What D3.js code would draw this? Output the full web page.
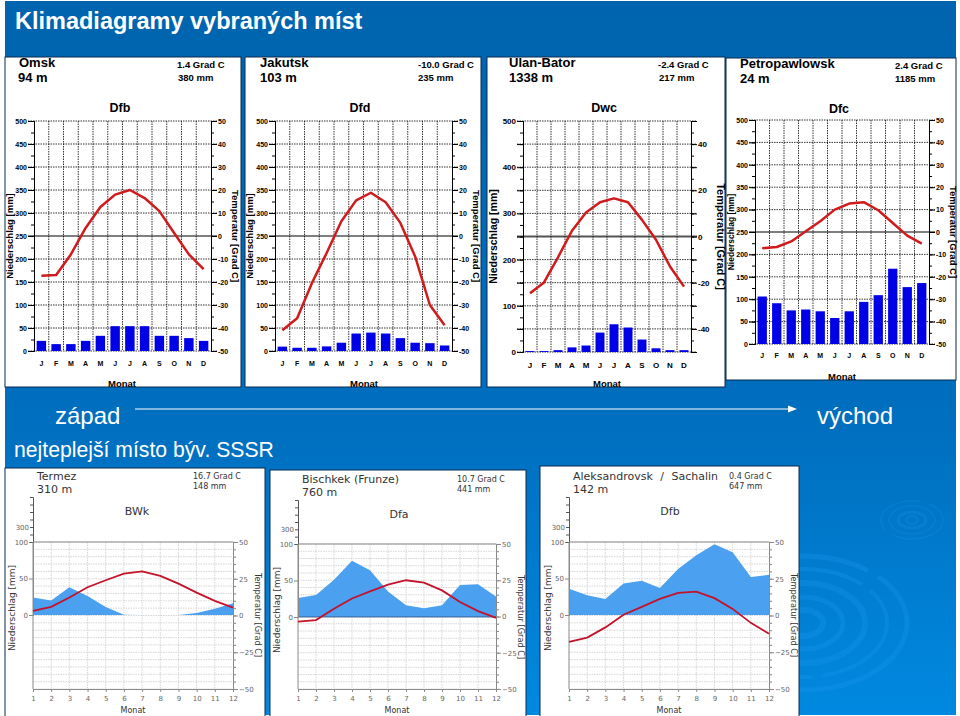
<!DOCTYPE html>
<html>
<head>
<meta charset="utf-8">
<title>Klimadiagramy vybraných míst</title>
<script src="https://cdnjs.cloudflare.com/ajax/libs/d3/7.8.5/d3.min.js"></script>
<style>
    html, body {margin: 0; padding: 0; background: #fff;}
    svg {display: block;}
    text {font-family: "Liberation Sans", Arial, sans-serif;}
</style>
</head>
<body>
<div id="chart"></div>
<script>
// Months
const monthLetters = ['J', 'F', 'M', 'A', 'M', 'J', 'J', 'A', 'S', 'O', 'N', 'D'];
const monthNumbers = [1, 2, 3, 4, 5, 6, 7, 8, 9, 10, 11, 12];

// Upper row, precipitation [mm] and temperature [Grad C]
const omskRain = [22, 15, 15, 22, 33, 54, 54, 54, 33, 33, 28, 22];
const omskTemp = [-17.3, -17, -8, 3.5, 12.6, 18, 20, 16.5, 10.8, 1.3, -8, -14.4];
const jakutskRain = [9.5, 7, 7, 10, 18, 38, 40, 38, 28, 18, 17, 12];
const jakutskTemp = [-41, -35.8, -20.5, -7.4, 6.4, 15.5, 18.8, 14.7, 5.7, -8.9, -30, -38.8];
const ulanRain = [2, 2, 4, 10, 14, 42, 60, 53, 27, 8, 4, 4];
const ulanTemp = [-24.6, -19.9, -9, 2.5, 10.4, 14.8, 16.5, 14.8, 7.2, -1.4, -13, -21.7];
const petroRain = [106, 91, 75, 77, 73, 58, 73, 94, 109, 168, 127, 136];
const petroTemp = [-7.3, -6.7, -4.2, 0.3, 4.8, 10, 12.7, 13.3, 9.7, 4, -1.6, -5.2];

// Lower row
const termezRain = [24, 20, 38, 26, 11, 0.5, 0, 0, 0, 2.7, 8.6, 16];
const termezTemp = [3.2, 5.9, 12.2, 19.2, 24, 28.5, 30, 27, 21.7, 15.6, 10, 5.4];
const bischkekRain = [26, 30, 51, 77, 64, 35, 16, 12, 16, 44, 45, 28];
const bischkekTemp = [-3.5, -2.5, 5.3, 12.4, 17.3, 22, 25, 23.3, 18, 10, 3.7, -1];
const sachalinRain = [36, 27, 22, 43, 47, 37, 63, 82, 97, 86, 52, 55];
const sachalinTemp = [-17.9, -15, -8.1, 0.5, 5.9, 11.3, 15.4, 16.3, 11.8, 4.5, -5, -12.4];

// Tick values
const rainGrid = [0, 50, 100, 150, 200, 250, 300, 350, 400, 450, 500];
const rainMinor = d3.range(0, 501, 25);
const tempMajor = [-50, -40, -30, -20, -10, 0, 10, 20, 30, 40, 50];
const tempMinor = d3.range(-50, 51, 5);
const lowerRainTicks = [0, 50, 100];
const lowerTempTicks = [-50, -25, 0, 25, 50];
const lowerUpperTicks = [100, 200, 300, 400, 500, 600, 700];

// Layout of the upper panels
const upperPanels = [
    {name: 'Omsk', height: '94 m', temp: '1.4 Grad C', rain: '380 mm', climate: 'Dfb', rainValues: omskRain, tempValues: omskTemp,
        box: [5, 57, 241, 387], plot: [34, 121, 211, 351], nameX: 19, heightX: 18, infoX: 177, rainX: 178, climateX: 120, leftTitleX: 13, rightTitleX: 232, monatX: 122},
    {name: 'Jakutsk', height: '103 m', temp: '-10.0 Grad C', rain: '235 mm', climate: 'Dfd', rainValues: jakutskRain, tempValues: jakutskTemp,
        box: [245, 57, 481, 387], plot: [275, 121, 452, 351], nameX: 260, heightX: 260, infoX: 418, rainX: 418, climateX: 360, leftTitleX: 253, rightTitleX: 473, monatX: 364},
    {name: 'Ulan-Bator', height: '1338 m', temp: '-2.4 Grad C', rain: '217 mm', climate: 'Dwc', rainValues: ulanRain, tempValues: ulanTemp,
        box: [487, 57, 725, 387], plot: [523, 121, 691, 352], nameX: 509, heightX: 509, infoX: 658, rainX: 659, climateX: 604, leftTitleX: 497, rightTitleX: 717, monatX: 607, sparse: true},
    {name: 'Petropawlowsk', height: '24 m', temp: '2.4 Grad C', rain: '1185 mm', climate: 'Dfc', rainValues: petroRain, tempValues: petroTemp,
        box: [726, 58, 956, 380], plot: [755, 120, 929, 344], nameX: 740, heightX: 740, infoX: 895, rainX: 895, climateX: 839, leftTitleX: 734, rightTitleX: 950, monatX: 842, smallLeft: true}
];

// Layout of the lower panels
const lowerPanels = [
    {name: 'Termez', height: '310 m', temp: '16.7 Grad C', rain: '148 mm', climate: 'BWk', rainValues: termezRain, tempValues: termezTemp,
        box: [5, 468, 265, 717], plot: [33, 542, 233, 615, 689], top: 497, nameX: 37, nameY: 480, heightY: 493, infoX: 193, climateX: 137, climateY: 515},
    {name: 'Bischkek (Frunze)', height: '760 m', temp: '10.7 Grad C', rain: '441 mm', climate: 'Dfa', rainValues: bischkekRain, tempValues: bischkekTemp,
        box: [270, 470, 526, 717], plot: [298, 544, 496, 617, 689], top: 500, nameX: 302, nameY: 483, heightY: 496, infoX: 457, climateX: 399, climateY: 518, zeroLine: true},
    {name: 'Aleksandrovsk / Sachalin', height: '142 m', temp: '0.4 Grad C', rain: '647 mm', climate: 'Dfb', rainValues: sachalinRain, tempValues: sachalinTemp,
        box: [540, 466, 799, 717], plot: [569, 542, 769, 615, 689], top: 497, nameX: 573, nameY: 480, heightY: 493, infoX: 729, rainX: 729, climateX: 670, climateY: 515, wordGap: 4}
];

const width = 960;
const height = 716;

let svg = d3.select('#chart').append('svg')
    .attr('width', width)
    .attr('height', height);

/*
** Slide background
 */
function drawBackground() {
    let gradient = svg.append('defs').append('linearGradient')
        .attr('id', 'slide-bg')
        .attr('x1', 0).attr('y1', 0).attr('x2', 0).attr('y2', 1);
    gradient.append('stop').attr('offset', '0%').attr('stop-color', '#0064ae');
    gradient.append('stop').attr('offset', '60%').attr('stop-color', '#006fbf');
    gradient.append('stop').attr('offset', '100%').attr('stop-color', '#0089e0');
    svg.append('rect')
        .attr('x', 5).attr('y', 1)
        .attr('width', 951).attr('height', 714)
        .attr('fill', 'url(#slide-bg)');

    // Water ripples
    let big = svg.append('g').attr('fill', 'none').attr('stroke', '#1b97ee').attr('opacity', 0.3);
    [[104, 67, 5, '150 12'], [84, 54, 4, '90 10'], [62, 40, 6, null], [40, 26, 5, null], [20, 13, 6, null]].forEach(function(r) {
        big.append('ellipse')
            .attr('cx', 803).attr('cy', 623)
            .attr('rx', r[0]).attr('ry', r[1])
            .attr('stroke-width', r[2])
            .attr('stroke-dasharray', r[3]);
    });
    let small = svg.append('g').attr('fill', 'none').attr('stroke', '#1b8ee0').attr('opacity', 0.3);
    [[31, 19, 1.5, '60 8'], [23, 14, 1.5, null], [14, 8, 3, null], [6, 4, 2, null]].forEach(function(r) {
        small.append('ellipse')
            .attr('cx', 912).attr('cy', 520)
            .attr('rx', r[0]).attr('ry', r[1])
            .attr('stroke-width', r[2])
            .attr('stroke-dasharray', r[3]);
    });
}

/*
** Text on the slide
 */
function drawSlideText() {
    svg.append('text').attr('x', 15).attr('y', 29)
        .attr('font-size', 23.5).attr('font-weight', 'bold').attr('fill', '#fff')
        .text('Klimadiagramy vybraných míst');
    svg.append('text').attr('x', 55).attr('y', 424)
        .attr('font-size', 24).attr('fill', '#fff').text('západ');
    svg.append('text').attr('x', 817).attr('y', 424)
        .attr('font-size', 24).attr('fill', '#fff').text('východ');
    svg.append('text').attr('x', 14).attr('y', 457)
        .attr('font-size', 21.2).attr('fill', '#fff').text('nejteplejší místo býv. SSSR');

    // Arrow west to east
    svg.append('line')
        .attr('x1', 135).attr('y1', 409).attr('x2', 790).attr('y2', 409)
        .attr('stroke', '#fff').attr('stroke-width', 1);
    svg.append('path')
        .attr('d', 'M797,409L788,405.5L788,412.5Z')
        .attr('fill', '#fff');
}

function panelBox(p) {
    svg.append('rect')
        .attr('x', p.box[0]).attr('y', p.box[1])
        .attr('width', p.box[2] - p.box[0]).attr('height', p.box[3] - p.box[1])
        .attr('fill', '#fff')
        .attr('stroke', '#0a2a50').attr('stroke-width', 1);
}

/*
** Upper panels with monthly bars
 */
function drawUpperPanel(p) {
    let left = p.plot[0], top = p.plot[1], right = p.plot[2], bottom = p.plot[3];
    let g = svg.append('g');
    let x = d3.scaleBand().domain(d3.range(12)).range([left, right]);
    let yRain = d3.scaleLinear().domain([0, 500]).range([bottom, top]);
    let yTemp = d3.scaleLinear().domain([-50, 50]).range([bottom, top]);
    let barWidth = x.bandwidth() * 0.64;

    // Dotted grid
    g.append('g').selectAll('line').data(rainGrid).join('line')
        .attr('x1', left - 6).attr('x2', right + 6)
        .attr('y1', d => yRain(d)).attr('y2', d => yRain(d))
        .attr('stroke', d => (d === 250 && p.sparse) ? '#555' : '#000')
        .attr('stroke-width', d => d === 250 ? (p.sparse ? 1.8 : 1.2) : 0.8)
        .attr('stroke-dasharray', d => d === 250 ? null : '1.5 1');
    g.append('g').selectAll('line').data(d3.range(1, 12)).join('line')
        .attr('x1', d => x(d)).attr('x2', d => x(d))
        .attr('y1', top).attr('y2', bottom)
        .attr('stroke', '#000').attr('stroke-width', 0.8)
        .attr('stroke-dasharray', '1.5 1');

    // Bars
    g.append('g').selectAll('rect').data(p.rainValues).join('rect')
        .attr('x', (d, i) => x(i) + (x.bandwidth() - barWidth) / 2)
        .attr('y', d => yRain(d))
        .attr('width', barWidth)
        .attr('height', d => yRain(0) - yRain(d))
        .attr('fill', '#0000e6');

    // Axes
    let labelled = p.sparse ? [0, 100, 200, 300, 400, 500] : rainGrid;
    let leftAxis = g.append('g').attr('transform', 'translate(' + left + ',0)')
        .call(d3.axisLeft(yRain).tickValues(rainGrid).tickSize(6).tickPadding(1)
            .tickFormat(d => labelled.includes(d) ? d : ''));
    g.append('g').attr('transform', 'translate(' + left + ',0)')
        .call(d3.axisLeft(yRain).tickValues(rainMinor).tickSize(3).tickFormat(''));
    let rightLabels = p.sparse ? [-40, -20, 0, 20, 40] : tempMajor;
    let rightAxis = g.append('g').attr('transform', 'translate(' + right + ',0)')
        .call(d3.axisRight(yTemp).tickValues(tempMajor).tickSize(6).tickPadding(1)
            .tickFormat(d => rightLabels.includes(d) ? d : ''));
    g.append('g').attr('transform', 'translate(' + right + ',0)')
        .call(d3.axisRight(yTemp).tickValues(tempMinor).tickSize(3).tickFormat(''));
    let monthAxis = g.append('g').attr('transform', 'translate(0,' + bottom + ')')
        .call(d3.axisBottom(x).tickSize(0).tickPadding(p.smallLeft ? 9 : 10).tickFormat(i => monthLetters[i]));
    monthAxis.select('.domain').remove();
    [leftAxis, rightAxis, monthAxis].forEach(function(a) {
        a.selectAll('text')
            .style('font-family', '"Liberation Sans", Arial, sans-serif')
            .attr('font-weight', 'bold')
            .attr('font-size', p.sparse ? 8 : 7);
    });

    // Temperature curve
    let line = d3.line()
        .x((d, i) => x(i) + x.bandwidth() / 2)
        .y(d => yTemp(d));
    g.append('path')
        .attr('d', line(p.tempValues))
        .attr('fill', 'none')
        .attr('stroke', '#cf1b1b').attr('stroke-width', 2.5)
        .attr('stroke-linejoin', 'round');

    // Labels
    let midY = (top + bottom) / 2;
    let nameY = p.box[1] + 10;
    g.append('text').attr('x', p.nameX).attr('y', nameY)
        .attr('font-size', 13).attr('font-weight', 'bold').text(p.name);
    g.append('text').attr('x', p.heightX).attr('y', nameY + 15)
        .attr('font-size', 13).attr('font-weight', 'bold').text(p.height);
    g.append('text').attr('x', p.infoX).attr('y', nameY + 1)
        .attr('font-size', 9.5).attr('font-weight', 'bold').text(p.temp);
    g.append('text').attr('x', p.rainX).attr('y', nameY + 14)
        .attr('font-size', 9.5).attr('font-weight', 'bold').text(p.rain);
    g.append('text').attr('x', p.climateX).attr('y', nameY + 45)
        .attr('text-anchor', 'middle').attr('font-size', 12.5).attr('font-weight', 'bold').text(p.climate);
    g.append('text').attr('x', p.monatX).attr('y', p.box[3] - 0.5)
        .attr('text-anchor', 'middle').attr('font-size', 9.5).attr('font-weight', 'bold').text('Monat');
    g.append('text')
        .attr('transform', 'translate(' + p.leftTitleX + ',' + midY + ') rotate(-90)')
        .attr('text-anchor', 'middle').attr('font-size', p.smallLeft ? 8.5 : (p.sparse ? 10.5 : 9.5)).attr('font-weight', 'bold').text('Niederschlag [mm]');
    g.append('text')
        .attr('transform', 'translate(' + p.rightTitleX + ',' + midY + ') rotate(90)')
        .attr('text-anchor', 'middle').attr('font-size', p.sparse ? 11 : 9.5).attr('font-weight', 'bold').text('Temperatur [Grad C]');
}

/*
** Lower panels with filled precipitation
 */
function drawLowerPanel(p) {
    panelBox(p);
    let left = p.plot[0], top = p.plot[1], right = p.plot[2], zero = p.plot[3], bottom = p.plot[4];
    let g = svg.append('g');
    let axisColor = '#8a8a8a';
    let x = d3.scalePoint().domain(monthNumbers).range([left, right]);
    let yRain = d3.scaleLinear().domain([0, 100]).range([zero, top]);
    let yTemp = d3.scaleLinear().domain([-50, 50]).range([bottom, top]);
    let yUpper = d3.scaleLinear().domain([100, 700]).range([top, p.top]);

    // Grid
    g.append('g').selectAll('line').data(d3.range(-50, 51, 5)).join('line')
        .attr('x1', left).attr('x2', right + 3)
        .attr('y1', d => yTemp(d)).attr('y2', d => yTemp(d))
        .attr('stroke', '#c4c4c4').attr('stroke-width', 0.7)
        .attr('stroke-dasharray', '1.5 1');
    g.append('g').selectAll('line').data(monthNumbers.slice(1, 11)).join('line')
        .attr('x1', d => x(d)).attr('x2', d => x(d))
        .attr('y1', top).attr('y2', bottom)
        .attr('stroke', '#c4c4c4').attr('stroke-width', 0.7)
        .attr('stroke-dasharray', '1.5 1');

    // Precipitation area
    let area = d3.area()
        .x((d, i) => x(monthNumbers[i]))
        .y0(zero)
        .y1(d => yRain(d));
    g.append('path')
        .attr('d', area(p.rainValues))
        .attr('fill', '#4ba0f0');

    if (p.zeroLine) {
        g.append('line')
            .attr('x1', left).attr('x2', right)
            .attr('y1', zero).attr('y2', zero)
            .attr('stroke', '#2c4a78').attr('stroke-width', 0.8);
    }

    // Axes
    let leftAxis = g.append('g').attr('transform', 'translate(' + left + ',0)')
        .call(d3.axisLeft(yRain).tickValues(lowerRainTicks).tickSize(4).tickPadding(1));
    let upperAxis = g.append('g').attr('transform', 'translate(' + left + ',0)')
        .call(d3.axisLeft(yUpper).tickValues(lowerUpperTicks).tickSize(3).tickPadding(1)
            .tickFormat(d => d === 300 ? d : ''));
    g.append('line')
        .attr('x1', left).attr('x2', left)
        .attr('y1', top).attr('y2', bottom)
        .attr('stroke', axisColor);
    let rightAxis = g.append('g').attr('transform', 'translate(' + right + ',0)')
        .call(d3.axisRight(yTemp).tickValues(lowerTempTicks).tickSize(5).tickPadding(1));
    g.append('g').attr('transform', 'translate(' + right + ',0)')
        .call(d3.axisRight(yTemp).tickValues(tempMinor).tickSize(3).tickFormat(''));
    let monthAxis = g.append('g').attr('transform', 'translate(0,' + bottom + ')')
        .call(d3.axisBottom(x).tickSize(3).tickPadding(4));
    g.append('line')
        .attr('x1', left).attr('x2', right)
        .attr('y1', top).attr('y2', top)
        .attr('stroke', axisColor);
    [leftAxis, upperAxis, rightAxis, monthAxis].forEach(function(a) {
        a.selectAll('text')
            .style('font-family', '"DejaVu Sans", sans-serif')
            .attr('font-size', 7)
            .attr('fill', '#666');
    });
    g.selectAll('.domain, .tick line').attr('stroke', axisColor);
    upperAxis.selectAll('.domain, .tick line').attr('stroke', '#555');

    // Temperature curve
    let line = d3.line()
        .x((d, i) => x(monthNumbers[i]))
        .y(d => yTemp(d));
    g.append('path')
        .attr('d', line(p.tempValues))
        .attr('fill', 'none')
        .attr('stroke', '#c4122a').attr('stroke-width', 1.8);

    // Labels
    let label = function(xPos, yPos, size, str) {
        return g.append('text').attr('x', xPos).attr('y', yPos)
            .style('font-family', '"DejaVu Sans", sans-serif')
            .attr('font-size', size).attr('fill', '#333').text(str);
    };
    label(p.nameX, p.nameY, 11, p.name).style('word-spacing', (p.wordGap || 0) + 'px');
    label(p.nameX, p.heightY, 11, p.height);
    label(p.infoX, p.nameY - 1.5, 8, p.temp);
    label(p.rainX || p.infoX, p.nameY + 8.5, 8, p.rain);
    label(p.climateX, p.climateY, 11, p.climate).attr('text-anchor', 'middle');
    label((left + right) / 2, 713, 8, 'Monat').attr('text-anchor', 'middle');
    label(0, 0, 9, 'Niederschlag [mm]')
        .attr('text-anchor', 'middle')
        .attr('transform', 'translate(' + (left - 18) + ',' + (zero - 7) + ') rotate(-90)');
    label(0, 0, 8.2, 'Temperatur [Grad C]')
        .attr('text-anchor', 'middle')
        .attr('transform', 'translate(' + (right + 22) + ',' + zero + ') rotate(90)');
}

drawBackground();
drawSlideText();
upperPanels.forEach(panelBox);
upperPanels.forEach(drawUpperPanel);
lowerPanels.forEach(drawLowerPanel);
</script>
</body>
</html>
